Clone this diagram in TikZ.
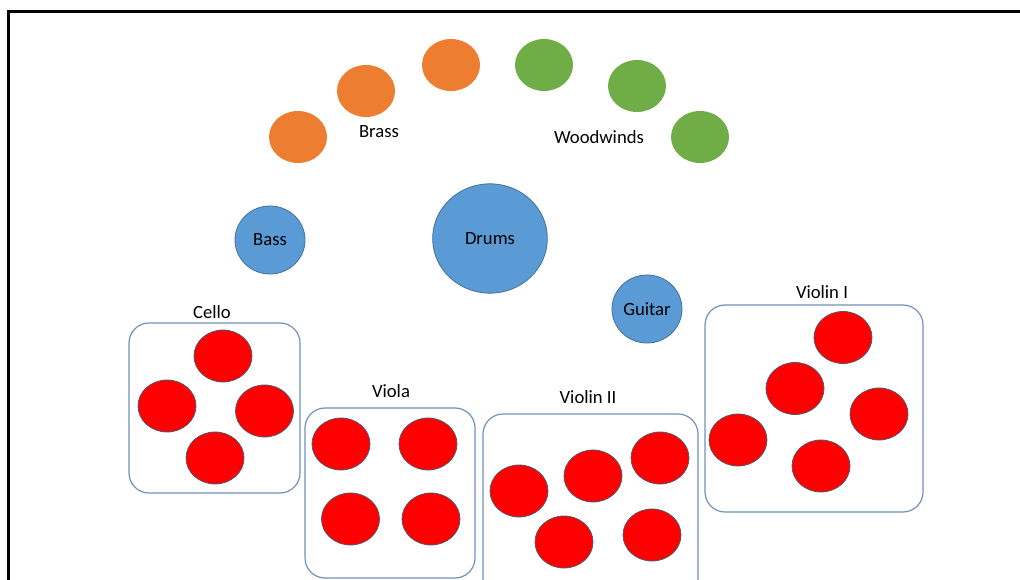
\documentclass[tikz,border=0pt]{standalone}
\usepackage{fontspec}
\setmainfont{Carlito}
\usetikzlibrary{shapes.geometric}

\definecolor{brassorange}{RGB}{237,125,49}
\definecolor{windgreen}{RGB}{112,173,71}
\definecolor{rhythmblue}{RGB}{91,155,213}
\definecolor{rhythmline}{RGB}{65,113,156}
\definecolor{stringred}{RGB}{255,0,0}
\definecolor{stringline}{RGB}{80,90,110}
\definecolor{sectionline}{RGB}{112,146,186}

\tikzset{every picture/.style={line width=0.75pt}}
\tikzset{
  label text/.style={inner sep=0.75pt, font=\fontsize{14}{17}\selectfont},
  seat/.style={ellipse, inner sep=0pt, minimum width=43.5pt, minimum height=39pt},
  brass seat/.style={seat, fill=brassorange},
  wind seat/.style={seat, fill=windgreen},
  string seat/.style={seat, fill=stringred, draw=stringline, line width=0.6pt},
  rhythm/.style={ellipse, inner sep=0pt, fill=rhythmblue, draw=rhythmline, line width=0.6pt, font=\fontsize{14}{17}\selectfont},
  section/.style={draw=sectionline, line width=0.9pt, rounded corners=15pt}
}

\begin{document}
\begin{tikzpicture}[x=0.75pt,y=0.75pt,yscale=-1,xscale=1]
	\clip (0,0) rectangle (1020,580);
	% Frame
	\draw [line width=1.9pt] (8.7,585) -- (8.7,11.3) -- (1025,11.3) ;
	
	% Brass
	\node [brass seat] (br1) at (298,137) {};
	\node [brass seat] (br2) at (366,91) {};
	\node [brass seat] (br3) at (451,65) {};
	\node [label text] (brass) at (379,132) {Brass};
	% Woodwinds
	\node [wind seat] (ww1) at (544,65) {};
	\node [wind seat] (ww2) at (637,86) {};
	\node [wind seat] (ww3) at (700,137) {};
	\node [label text] (woodwinds) at (599,137) {Woodwinds};
	
	% Rhythm
	\node [rhythm, minimum width=52.5pt, minimum height=51pt] (bass) at (270,240) {Bass};
	\node [rhythm, minimum width=86pt, minimum height=82pt] (drums) at (490,238.5) {Drums};
	\node [rhythm, minimum width=52.5pt, minimum height=51pt] (guitar) at (647,309) {Guitar};
	
	% Cello
	\draw [section] (129,323) rectangle (300,493) ;
	\node [label text] (cello) at (212,312) {Cello};
	\node [string seat] (ce1) at (223,356) {};
	\node [string seat] (ce2) at (167,406) {};
	\node [string seat] (ce3) at (264.5,411) {};
	\node [string seat] (ce4) at (215,458) {};
	
	% Viola
	\draw [section] (305,408) rectangle (475,578) ;
	\node [label text] (viola) at (391,391) {Viola};
	\node [string seat] (va1) at (341,444) {};
	\node [string seat] (va2) at (428,444) {};
	\node [string seat] (va3) at (350.5,519) {};
	\node [string seat] (va4) at (431,519) {};
	
	% Violin II
	\draw [section] (483,414) rectangle (698,610) ;
	\node [label text] (violin2) at (588,397) {Violin II};
	\node [string seat] (vb1) at (519,491) {};
	\node [string seat] (vb2) at (593,476) {};
	\node [string seat] (vb3) at (660,458) {};
	\node [string seat] (vb4) at (564,542) {};
	\node [string seat] (vb5) at (652,535) {};
	
	% Violin I
	\draw [section] (705,305) rectangle (923,512) ;
	\node [label text] (violin1) at (822,292) {Violin I};
	\node [string seat] (vi1) at (843,337.5) {};
	\node [string seat] (vi2) at (795,388.5) {};
	\node [string seat] (vi3) at (879,414) {};
	\node [string seat] (vi4) at (738,440) {};
	\node [string seat] (vi5) at (821,466) {};
	
\end{tikzpicture}
\end{document}
